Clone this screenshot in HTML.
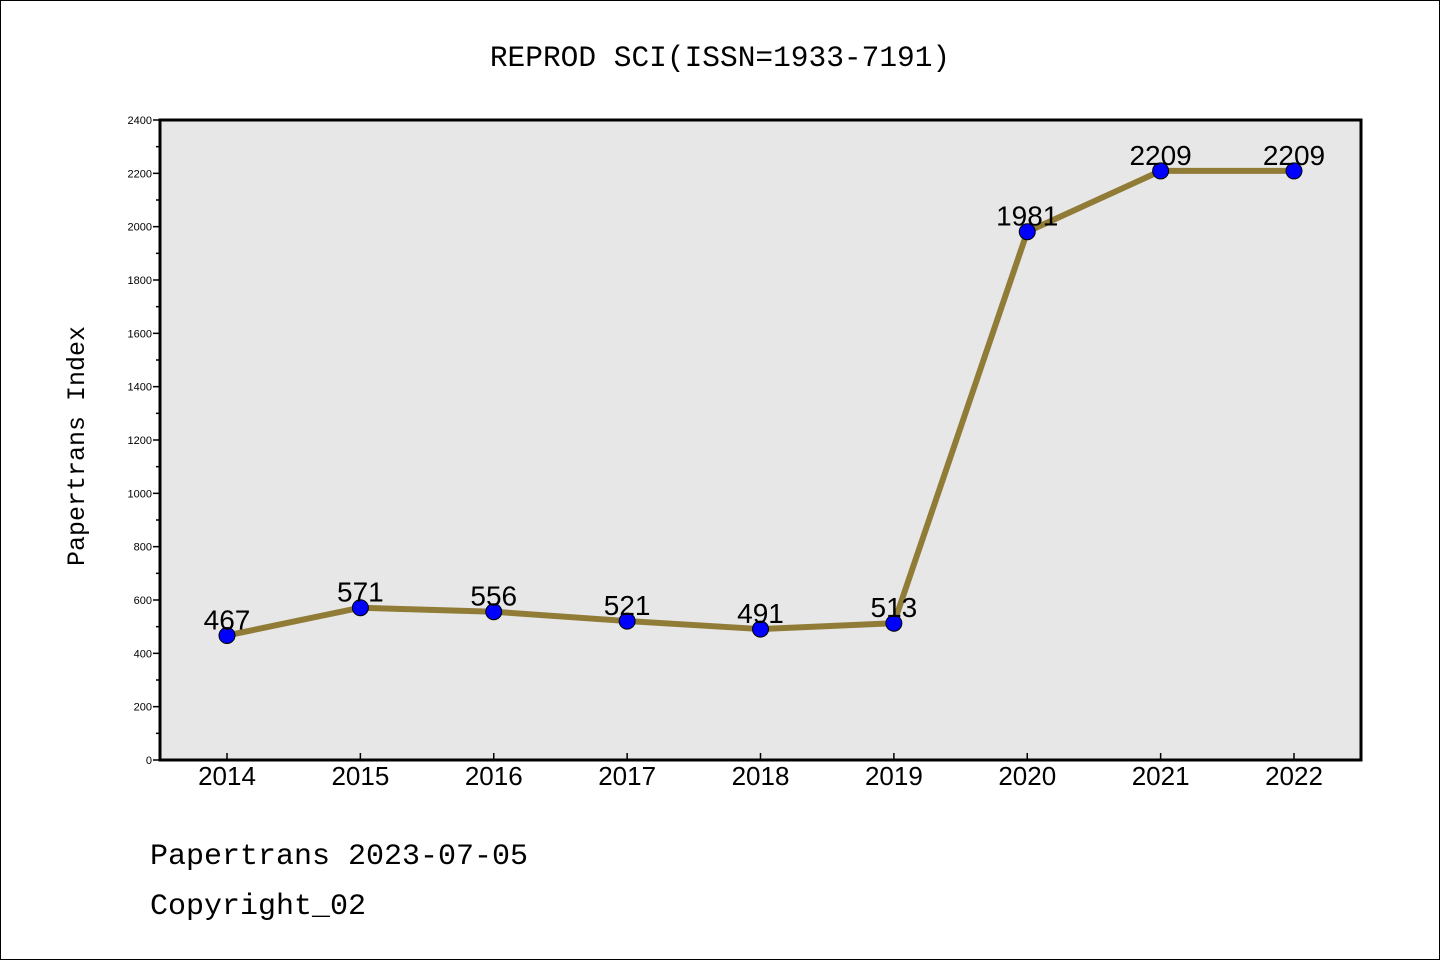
<!DOCTYPE html>
<html><head><meta charset="utf-8">
<style>
html,body{margin:0;padding:0;background:#fff;}
svg{display:block;}
text{font-family:"Liberation Sans",sans-serif;}
.mono{font-family:"Liberation Mono",monospace;}
</style></head>
<body>
<svg id="chart" width="1440" height="960" xmlns="http://www.w3.org/2000/svg">
<rect x="0.5" y="0.5" width="1439" height="959" fill="#fff" stroke="#000" stroke-width="1"/>
<text class="mono" x="720" y="66" font-size="29.5" text-anchor="middle">REPROD SCI(ISSN=1933-7191)</text>
<rect x="160" y="120" width="1201" height="640" fill="#e7e7e7"/>
<g id="axes"></g>
<g id="series"></g>
<rect x="160" y="120" width="1201" height="640" fill="none" stroke="#000" stroke-width="3"/>
<text class="mono" transform="translate(84,446) rotate(-90)" font-size="25" text-anchor="middle">Papertrans Index</text>
<text class="mono" x="150" y="864" font-size="30">Papertrans 2023-07-05</text>
<text class="mono" x="150" y="914" font-size="30">Copyright_02</text>
</svg>
<script>
const years = ["2014","2015","2016","2017","2018","2019","2020","2021","2022"];
const values = [467,571,556,521,491,513,1981,2209,2209];
const yTicks = [0,200,400,600,800,1000,1200,1400,1600,1800,2000,2200,2400];

const NS="http://www.w3.org/2000/svg";
function y(v){return 760 - v*(640/2400);}
function x(i){return 227 + i*(1294-227)/(years.length-1);}
function mk(tag,attrs,parent,txt){const e=document.createElementNS(NS,tag);for(const k in attrs)e.setAttribute(k,attrs[k]);if(txt!==undefined)e.textContent=txt;parent.appendChild(e);return e;}
const axes=document.getElementById('axes'), series=document.getElementById('series');
yTicks.forEach((t,i)=>{
  const l=mk('line',{x1:153,x2:160,y1:y(t),y2:y(t),stroke:'#000','stroke-width':1.5},axes);
  
  
  const tx=mk('text',{x:152,y:y(t)+4,'font-size':11,'text-anchor':'end'},axes,String(t));
  
  
  if(i<yTicks.length-1){
    const m=mk('line',{x1:156,x2:160,y1:y(t+100),y2:y(t+100),stroke:'#000','stroke-width':1.5},axes);
    
    
  }
});
years.forEach((yr,i)=>{
  const l=mk('line',{x1:x(i),x2:x(i),y1:760,y2:753,stroke:'#000','stroke-width':1.5},axes);
  
  
  const tx=mk('text',{x:x(i),y:785,'font-size':26,'text-anchor':'middle'},axes,yr);
  
  
});
const pts=values.map((v,i)=>x(i)+','+y(v)).join(' ');
const pl=mk('polyline',{points:pts,fill:'none',stroke:'#917c37','stroke-width':6,'stroke-linejoin':'round'},series);


values.forEach((v,i)=>{
  const c=mk('circle',{cx:x(i),cy:y(v),r:8,fill:'#0000ff',stroke:'#000','stroke-width':1},series);
  
  
  const t=mk('text',{x:x(i),y:y(v)-6,'font-size':28,'text-anchor':'middle'},series,String(v));
  
  
});
</script>
</body></html>
